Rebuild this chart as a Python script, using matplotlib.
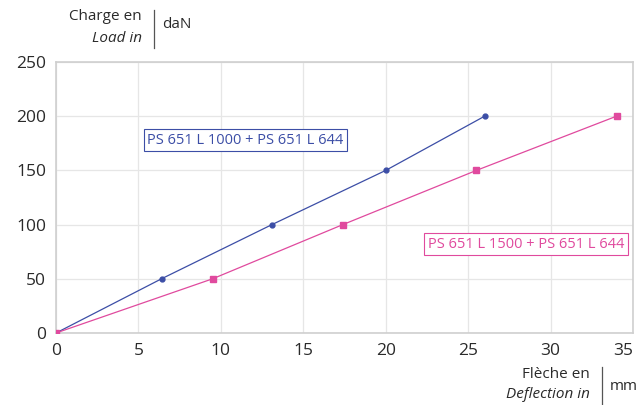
import matplotlib
matplotlib.use("Agg")
import matplotlib.pyplot as plt

# load (daN) vs deflection (mm)
load = [0, 50, 100, 150, 200]
defl_1000 = [0, 6.4, 13.1, 20.0, 26.0]
defl_1500 = [0, 9.5, 17.4, 25.5, 34.0]
label_1000 = "PS 651 L 1000 + PS 651 L 644"
label_1500 = "PS 651 L 1500 + PS 651 L 644"
xticks = [0, 5, 10, 15, 20, 25, 30, 35]
yticks = [0, 50, 100, 150, 200, 250]

BLUE = "#3c4ea6"
PINK = "#e04a9e"
GREY = "#cfcfcf"
TXT = "#2a2a2a"

plt.rcParams["font.family"] = ["Open Sans", "DejaVu Sans"]

fig = plt.figure(figsize=(6.4, 4.05), dpi=100)
ax = fig.add_axes([56 / 640, 1 - 333 / 405, (633 - 56) / 640, (333 - 62) / 405])

ax.plot(defl_1000, load, "-o", color=BLUE, lw=0.9, ms=3.5, zorder=3)
ax.plot(defl_1500, load, "-s", color=PINK, lw=0.9, ms=4, zorder=3)

ax.set_xlim(0, 35)
ax.set_ylim(0, 250)
ax.set_xticks(xticks)
ax.set_yticks(yticks)
ax.grid(color="#e6e6e6", lw=0.9)
ax.tick_params(length=0, labelsize=12.5, colors=TXT, pad=7)
ax.get_xticklabels()[-1].set_ha("right")
for s in ax.spines.values():
    s.set_color(GREY)
    s.set_linewidth(1.2)

ax.text(11.5, 178, label_1000, color=BLUE, fontsize=10.5, ha="center", va="center",
        bbox=dict(boxstyle="square,pad=0.25", fc="white", ec=BLUE, lw=0.8))
ax.text(28.5, 82, label_1500, color=PINK, fontsize=10.5, ha="center", va="center",
        bbox=dict(boxstyle="square,pad=0.25", fc="white", ec=PINK, lw=0.8))

# axis titles (bilingual, with unit behind a bar)
fig.text(142 / 640, 1 - 17 / 405, "Charge en", ha="right", va="center", fontsize=11, color=TXT)
fig.text(142 / 640, 1 - 38 / 405, "Load in", ha="right", va="center", fontsize=11,
         style="italic", color=TXT)
fig.add_artist(plt.Line2D([154 / 640, 154 / 640], [1 - 10 / 405, 1 - 48 / 405], color="#555555", lw=0.9))
fig.text(162 / 640, 1 - 25 / 405, "daN", ha="left", va="center", fontsize=11, color=TXT)

fig.text(590 / 640, 1 - 375 / 405, "Flèche en", ha="right", va="center", fontsize=11, color=TXT)
fig.text(590 / 640, 1 - 394 / 405, "Deflection in", ha="right", va="center", fontsize=11,
         style="italic", color=TXT)
fig.add_artist(plt.Line2D([602 / 640, 602 / 640], [1 - 367 / 405, 1 - 404 / 405], color="#555555", lw=0.9))
fig.text(610 / 640, 1 - 386 / 405, "mm", ha="left", va="center", fontsize=11, color=TXT)

fig.savefig("out.png", dpi=100)
